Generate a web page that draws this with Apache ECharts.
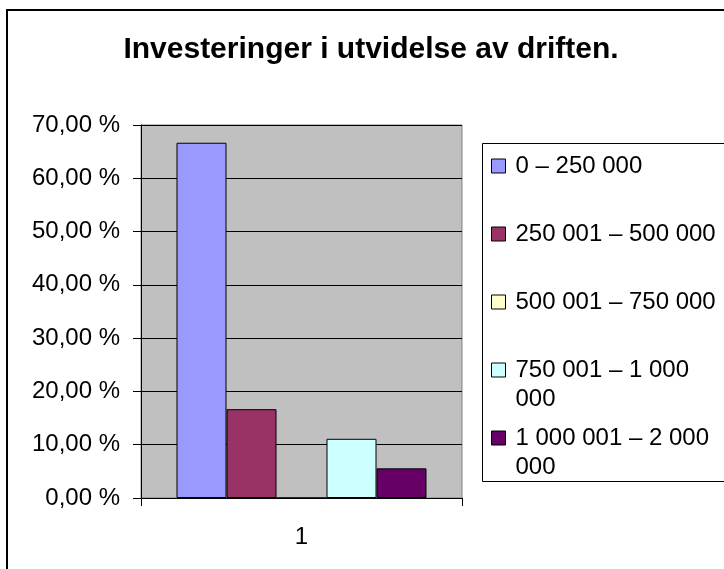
<!DOCTYPE html>
<html>
<head>
<meta charset="utf-8">
<script src="https://cdn.jsdelivr.net/npm/echarts@6/dist/echarts.min.js"></script>
<style>
  html, body { margin: 0; padding: 0; background: #fff; }
  #grafico { width: 724px; height: 569px; }
</style>
</head>
<body>
<div id="grafico"></div>
<script>
// Datos del gráfico
const kategorier = ['1'];
const serieNavn = [
    '0 – 250 000',
    '250 001 – 500 000',
    '500 001 – 750 000',
    '750 001 – 1 000\n000',
    '1 000 001 – 2 000\n000'
];
const verdier = [66.67, 16.67, 0, 11.11, 5.56];
const farger = ['#9999FF', '#993366', '#FFFFCC', '#CCFFFF', '#660066'];
const yTicks = [0, 10, 20, 30, 40, 50, 60, 70];

const fonte = 'Arial, "Liberation Sans", sans-serif';

// centro vertical de cada ícono de la leyenda
const legendCentros = [166, 234, 302, 370, 438];

const grafico = echarts.init(document.getElementById('grafico'));

const leyendas = serieNavn.map((navn, i) => {
    const partido = navn.includes('\n');
    return {
        orient: 'vertical',
        left: 491,
        top: partido ? legendCentros[i] - 43.5 : legendCentros[i] - 14.5,
        padding: 0,
        icon: 'rect',
        itemWidth: 14,
        itemHeight: 14,
        data: [navn],
        formatter: n => (n.includes('\n') ? '\n' + n : n),
        itemStyle: { borderColor: '#000', borderWidth: 1 },
        textStyle: {
            fontFamily: fonte,
            fontSize: 24,
            color: '#000',
            lineHeight: 29,
            padding: [0, 0, 0, 5]
        }
    };
});

const opciones = {
    animation: false,
    backgroundColor: '#fff',
    title: {
        text: 'Investeringer i utvidelse av driften.',
        left: 371,
        top: 35,
        textAlign: 'center',
        padding: 0,
        textStyle: {
            fontFamily: fonte,
            fontSize: 30,
            fontWeight: 'bold',
            color: '#000'
        }
    },
    graphic: [
        {
            type: 'rect',
            z: -1,
            shape: { x: 7, y: 10, width: 800, height: 600 },
            style: { fill: 'none', stroke: '#000', lineWidth: 2 }
        },
        {
            type: 'rect',
            z: 0,
            shape: { x: 482.5, y: 143.5, width: 300, height: 338 },
            style: { fill: '#fff', stroke: '#000', lineWidth: 1 }
        }
    ],
    legend: leyendas,
    grid: {
        left: 141,
        top: 125,
        right: 262,
        bottom: 71,
        show: true,
        backgroundColor: '#C0C0C0',
        borderColor: '#808080',
        borderWidth: 1
    },
    xAxis: {
        type: 'category',
        data: kategorier,
        axisLine: { lineStyle: { color: '#000', width: 1 } },
        axisTick: { show: true, length: 8, lineStyle: { color: '#000' } },
        axisLabel: {
            margin: 27,
            fontFamily: fonte,
            fontSize: 24,
            color: '#000'
        }
    },
    yAxis: {
        type: 'value',
        min: yTicks[0],
        max: yTicks[yTicks.length - 1],
        interval: 10,
        axisLine: { show: true, lineStyle: { color: '#000', width: 1 } },
        axisTick: { show: true, length: 8, lineStyle: { color: '#000' } },
        splitLine: { lineStyle: { color: '#000', width: 1 } },
        axisLabel: {
            margin: 21,
            fontFamily: fonte,
            fontSize: 24,
            color: '#000',
            formatter: v => v.toFixed(2).replace('.', ',') + ' %'
        }
    },
    series: serieNavn.map((navn, i) => ({
        name: navn,
        type: 'bar',
        barWidth: 50,
        barGap: 0,
        data: [verdier[i]],
        itemStyle: {
            color: farger[i],
            borderColor: '#000',
            borderWidth: 1
        }
    }))
};

grafico.setOption(opciones);
</script>
</body>
</html>
